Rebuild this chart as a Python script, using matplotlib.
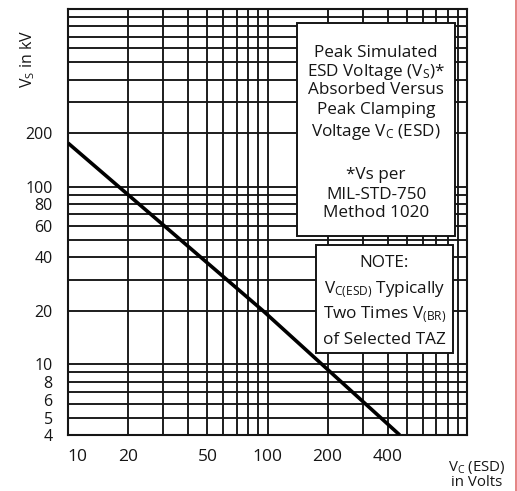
import matplotlib
matplotlib.use('Agg')
import matplotlib.pyplot as plt
from matplotlib.patches import Rectangle
from matplotlib.lines import Line2D
from matplotlib.transforms import ScaledTranslation
import numpy as np

plt.rcParams['font.family'] = ['Open Sans', 'DejaVu Sans']
plt.rcParams['mathtext.fontset'] = 'custom'
plt.rcParams['mathtext.rm'] = 'Open Sans'
plt.rcParams['mathtext.it'] = 'Open Sans:italic'

# peak clamping voltage (V) vs peak simulated ESD voltage absorbed (kV)
vc = [10, 95, 460]
vs = [176, 20, 4]

xticks = [10, 20, 50, 100, 200, 400]
yticks = [4, 5, 6, 8, 10, 20, 40, 60, 80, 100, 200]

box1_lines = ['Peak Simulated',
              r'ESD Voltage (V$_\mathrm{S}$)*',
              'Absorbed Versus',
              'Peak Clamping',
              r'Voltage V$_\mathrm{C}$ (ESD)',
              '*Vs per',
              'MIL-STD-750',
              'Method 1020']
box2_lines = ['NOTE:',
              r'V$_\mathrm{C(ESD)}$ Typically',
              r'Two Times V$_\mathrm{(BR)}$',
              'of Selected TAZ']

ink = '#151515'

fig = plt.figure(figsize=(5.17, 4.91), dpi=100)
ax = fig.add_axes([68 / 517, 1 - 435 / 491, 399 / 517, 426 / 491])

ax.plot(vc, vs, color='black', linewidth=2.6, zorder=3, solid_capstyle='butt')

ax.set_xscale('log')
ax.set_yscale('log')
ax.set_xlim(10, 1000)
ax.set_ylim(4, 1000)

ax.set_xticks(xticks)
ax.set_xticklabels([str(t) for t in xticks])
ax.set_yticks(yticks)
ax.set_yticklabels([str(t) for t in yticks])
ax.xaxis.set_minor_locator(matplotlib.ticker.LogLocator(base=10, subs=np.arange(1, 10)))
ax.yaxis.set_minor_locator(matplotlib.ticker.LogLocator(base=10, subs=np.arange(1, 10)))
ax.xaxis.set_minor_formatter(matplotlib.ticker.NullFormatter())
ax.yaxis.set_minor_formatter(matplotlib.ticker.NullFormatter())
ax.tick_params(which='both', length=0, colors=ink)
ax.tick_params(axis='x', pad=10, labelsize=12.5)
ax.tick_params(axis='y', pad=11, labelsize=11.5)

# crowded labels near the axis corner are nudged as on the original sheet
for lab in ax.get_yticklabels():
    if lab.get_text() == '6':
        lab.set_transform(lab.get_transform() + ScaledTranslation(0, 3 / 72, fig.dpi_scale_trans))
for lab in ax.get_xticklabels():
    if lab.get_text() == '10':
        lab.set_transform(lab.get_transform() + ScaledTranslation(7 / 72, 0, fig.dpi_scale_trans))

ax.grid(True, which='both', color=ink, linewidth=1.35)
ax.set_axisbelow(True)
for s in ax.spines.values():
    s.set_color(ink)
    s.set_linewidth(1.5)

# text boxes
ax.add_patch(Rectangle((0.574, 0.467), 0.396, 0.500, transform=ax.transAxes,
                       facecolor='white', edgecolor=ink, linewidth=1.4, zorder=4))
ax.add_patch(Rectangle((0.622, 0.192), 0.343, 0.254, transform=ax.transAxes,
                       facecolor='white', edgecolor=ink, linewidth=1.4, zorder=4))

ys1 = [0.897, 0.852, 0.810, 0.763, 0.711, 0.610, 0.563, 0.521]
for t, y in zip(box1_lines, ys1):
    ax.text(0.772, y, t, transform=ax.transAxes, ha='center', va='center',
            fontsize=12.3, color=ink, zorder=5)
ys2 = [0.404, 0.340, 0.282, 0.223]
for t, y in zip(box2_lines, ys2):
    ax.text(0.793, y, t, transform=ax.transAxes, ha='center', va='center',
            fontsize=12.3, color=ink, zorder=5)

fig.text(28 / 517, 1 - 59 / 491, r'V$_\mathrm{S}$ in kV', rotation=90,
         ha='center', va='center', fontsize=11.5, color=ink)
fig.text(477 / 517, 1 - 467 / 491, r'V$_\mathrm{C}$ (ESD)', ha='center', va='center',
         fontsize=10.8, color=ink)
fig.text(477 / 517, 1 - 483 / 491, 'in Volts', ha='center', va='center',
         fontsize=10.8, color=ink)

fig.add_artist(Line2D([515.5 / 517, 515.5 / 517], [0, 1], color='#e07070', linewidth=1.2))

fig.savefig('out.png', dpi=100)
